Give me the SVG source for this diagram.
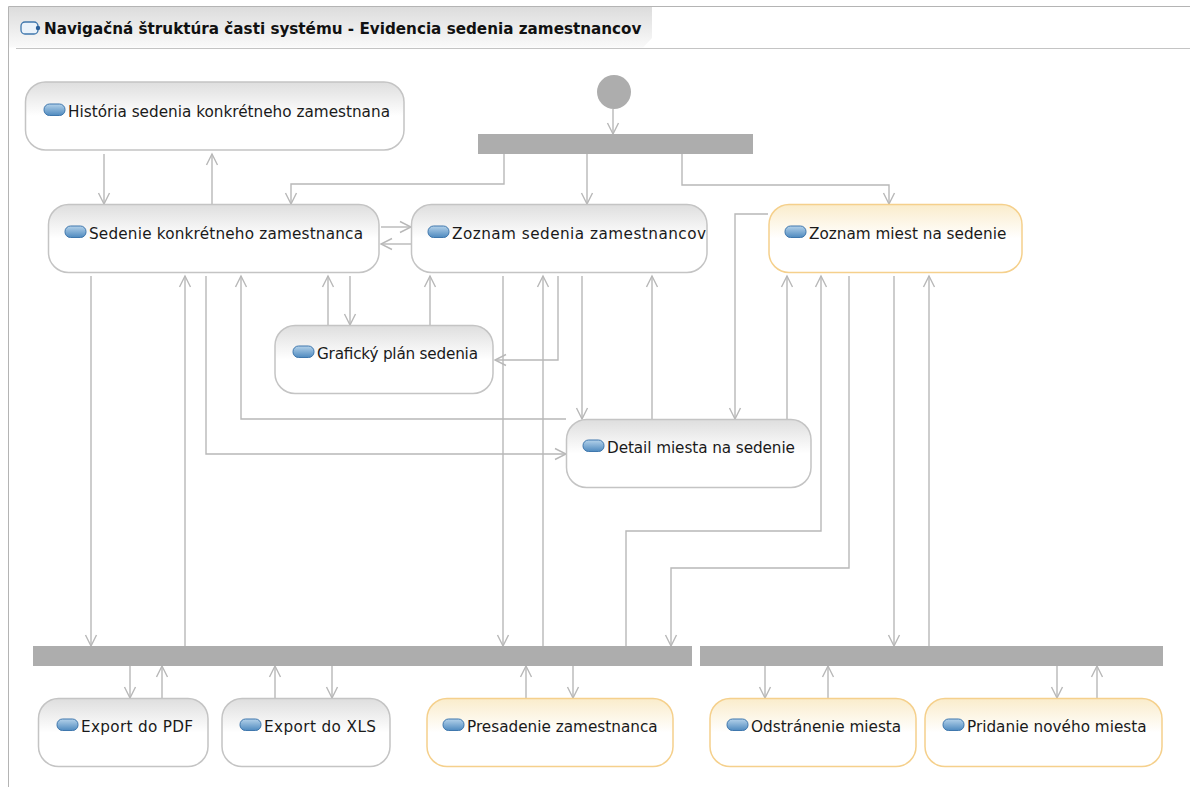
<svg xmlns="http://www.w3.org/2000/svg" width="1190" height="787" viewBox="0 0 1190 787">
<style>
.n{fill:url(#g);stroke:#c4c4c4;stroke-width:1.5}
.y{fill:url(#gy);stroke:#f5d08c;stroke-width:1.5}
.t{font-family:"DejaVu Sans",sans-serif;font-size:15.25px;fill:#1a1a1a}
.i{fill:url(#gi);stroke:#3f77ad;stroke-width:1}
.b{fill:#adadad}
.c{fill:none;stroke:#b8b8b8;stroke-width:1.4;marker-end:url(#a)}
</style>
<defs>
<linearGradient id="g" x1="0" y1="0" x2="0" y2="1"><stop offset="0" stop-color="#dedede"/><stop offset=".5" stop-color="#fff"/></linearGradient>
<linearGradient id="gy" x1="0" y1="0" x2="0" y2="1"><stop offset="0" stop-color="#faeccb"/><stop offset=".5" stop-color="#fff"/></linearGradient>
<linearGradient id="gi" x1="0" y1="0" x2="0" y2="1"><stop offset="0" stop-color="#b4d2ea"/><stop offset="1" stop-color="#4f8abf"/></linearGradient>
<linearGradient id="gt" x1="0" y1="0" x2="0" y2="1"><stop offset="0" stop-color="#dcdcdc"/><stop offset="1" stop-color="#fafafa"/></linearGradient>
<marker id="a" markerUnits="userSpaceOnUse" markerWidth="14" markerHeight="14" refX="12" refY="7" orient="auto"><path d="M1 1.500L12 7L1 12.500" fill="none" stroke="#b8b8b8" stroke-width="1.4"/></marker>
<rect id="ic" width="21" height="11.500" rx="5.500" class="i"/>
</defs>
<g id="frame">
<path d="M8.500 787V6.500H1190" fill="none" stroke="#b4b4b4"/>
<path d="M9 7H652V38L643 47.500H9Z" fill="url(#gt)"/>
<path d="M16 48.500H1190" fill="none" stroke="#c4c4c4" stroke-width="1"/>
<rect x="21" y="22" width="17" height="12" rx="4" fill="#eaf2fa" stroke="#3f77ad" stroke-width="1.3"/>
<circle cx="38" cy="28" r="2.200" fill="#2a5f9a"/>
<text x="44" y="34" font-family="DejaVu Sans, sans-serif" font-size="15.200px" font-weight="bold" fill="#111">Navigačná štruktúra časti systému - Evidencia sedenia zamestnancov</text>
</g>
<g id="connectors">
<path class="c" d="M613 109V134"/>
<path class="c" d="M504 154V184H291V204"/>
<path class="c" d="M587 154V204"/>
<path class="c" d="M682 154V185H889V204"/>
<path class="c" d="M104 154V204"/>
<path class="c" d="M212 204V154"/>
<path class="c" d="M381 227H411"/>
<path class="c" d="M411 244H381"/>
<path class="c" d="M91 276V646"/>
<path class="c" d="M185 646V276"/>
<path class="c" d="M206 276V454H566"/>
<path class="c" d="M566 419H241V276"/>
<path class="c" d="M328 325V276"/>
<path class="c" d="M350 276V325"/>
<path class="c" d="M430 325V276"/>
<path class="c" d="M558 276V360H495"/>
<path class="c" d="M503 276V646"/>
<path class="c" d="M543 646V276"/>
<path class="c" d="M582 276V419"/>
<path class="c" d="M652 419V276"/>
<path class="c" d="M768 214H735V419"/>
<path class="c" d="M787 419V276"/>
<path class="c" d="M626 646V531H821V276"/>
<path class="c" d="M849 276V568H671V646"/>
<path class="c" d="M894 276V646"/>
<path class="c" d="M929 646V276"/>
<path class="c" d="M130 666V698"/>
<path class="c" d="M162 698V666"/>
<path class="c" d="M275 698V666"/>
<path class="c" d="M332 666V698"/>
<path class="c" d="M526 698V666"/>
<path class="c" d="M573 666V698"/>
<path class="c" d="M765 666V698"/>
<path class="c" d="M828 698V666"/>
<path class="c" d="M1057 666V698"/>
<path class="c" d="M1097 698V666"/>
</g>
<g id="start"><circle cx="614" cy="92" r="17" class="b"/></g>
<g id="bar-top"><rect x="478" y="134" width="275" height="20" class="b"/></g>
<g id="bar-left"><rect x="33" y="646" width="659" height="20" class="b"/></g>
<g id="bar-right"><rect x="700" y="646" width="463" height="20" class="b"/></g>
<g id="n1"><rect x="25.500" y="82" width="378.500" height="68" rx="20" class="n"/><use href="#ic" x="44" y="104"/><text x="68" y="117" class="t">História sedenia konkrétneho zamestnana</text></g>
<g id="n2"><rect x="48.500" y="204.500" width="330.500" height="68" rx="20" class="n"/><use href="#ic" x="65" y="226"/><text x="89" y="239" class="t" textLength="274">Sedenie konkrétneho zamestnanca</text></g>
<g id="n3"><rect x="411.500" y="204.500" width="295.500" height="68" rx="20" class="n"/><use href="#ic" x="428" y="226"/><text x="452" y="239" class="t" textLength="254">Zoznam sedenia zamestnancov</text></g>
<g id="n4"><rect x="769" y="204.500" width="253" height="68" rx="20" class="y"/><use href="#ic" x="785" y="226"/><text x="809" y="239" class="t">Zoznam miest na sedenie</text></g>
<g id="n5"><rect x="275" y="325.500" width="218" height="68" rx="20" class="n"/><use href="#ic" x="293" y="346"/><text x="317" y="359" class="t" textLength="161">Grafický plán sedenia</text></g>
<g id="n6"><rect x="566.500" y="419.500" width="244.500" height="68" rx="20" class="n"/><use href="#ic" x="583" y="440"/><text x="607" y="453" class="t" textLength="188">Detail miesta na sedenie</text></g>
<g id="n7"><rect x="38.500" y="698.500" width="169.500" height="68" rx="20" class="n"/><use href="#ic" x="57" y="719"/><text x="81" y="732" class="t" textLength="112">Export do PDF</text></g>
<g id="n8"><rect x="222" y="698.500" width="168" height="68" rx="20" class="n"/><use href="#ic" x="240" y="719"/><text x="264" y="732" class="t" textLength="112">Export do XLS</text></g>
<g id="n9"><rect x="427" y="698.500" width="246" height="68" rx="20" class="y"/><use href="#ic" x="443" y="719"/><text x="467" y="732" class="t">Presadenie zamestnanca</text></g>
<g id="n10"><rect x="710" y="698.500" width="206" height="68" rx="20" class="y"/><use href="#ic" x="727" y="719"/><text x="751" y="732" class="t">Odstránenie miesta</text></g>
<g id="n11"><rect x="925" y="698.500" width="237" height="68" rx="20" class="y"/><use href="#ic" x="943" y="719"/><text x="967" y="732" class="t">Pridanie nového miesta</text></g>
</svg>
